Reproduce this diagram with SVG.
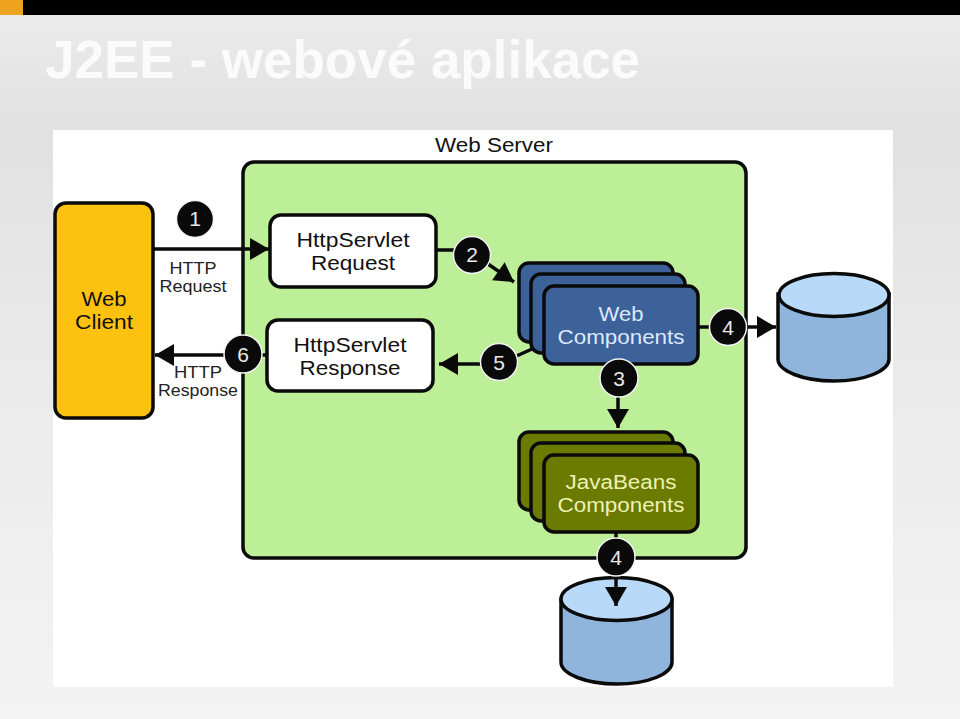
<svg xmlns="http://www.w3.org/2000/svg" width="960" height="719" viewBox="0 0 960 719">
  <style>
    text { font-family: "Liberation Sans", Arial, sans-serif; text-anchor: middle; fill: #111; }
    .title { font-size: 53px; font-weight: 700; fill: #fbfbfb; text-anchor: start; }
    .lbl { font-size: 20px; }
    .small { font-size: 15.800px; fill: #222; }
    .num { font-size: 21px; fill: #e8e8e8; }
    .box { stroke: #0a0a0a; stroke-width: 3.500; }
    .web { fill: #3d6299; }
    .bean { fill: #6b7b00; }
    .cyl { fill: #8fb5dc; stroke: #0a0a0a; stroke-width: 3.500; }
    .top { fill: #b9d9f8; stroke: #0a0a0a; stroke-width: 3.500; }
    .badge { fill: #0a0a0a; stroke: #f4f4f4; stroke-width: 1.500; }
    .line { stroke: #0a0a0a; stroke-width: 3.500; fill: none; }
    .arrow { marker-end: url(#head); }
  </style>
  <defs>
    <linearGradient id="bg" x1="0" y1="0" x2="0" y2="1">
      <stop offset="0" stop-color="#ececec"/>
      <stop offset="0.18" stop-color="#e1e1e1"/>
      <stop offset="0.6" stop-color="#ececec"/>
      <stop offset="1" stop-color="#f3f3f3"/>
    </linearGradient>
    <marker id="head" markerUnits="userSpaceOnUse" markerWidth="20" markerHeight="24" refX="19" refY="12" orient="auto" overflow="visible">
      <path d="M0 1 L19 12 L0 23 Z" fill="#0a0a0a"/>
    </marker>
  </defs>

  <rect width="960" height="719" fill="url(#bg)"/>
  <rect width="960" height="15" fill="#000"/>
  <rect width="23" height="15" fill="#eda320"/>
  <text class="title" x="45" y="78">J2EE - webové aplikace</text>
  <rect x="53" y="130" width="840" height="557" fill="#fff"/>

  <g id="web-server">
    <rect class="box" x="243" y="162" width="503" height="396" rx="11" fill="#bdee98"/>
    <text class="lbl" x="494" y="152" textLength="118" lengthAdjust="spacingAndGlyphs">Web Server</text>
  </g>

  <g id="connectors">
    <path class="line arrow" d="M153 249 H269"/>
    <path class="line" d="M436 250 H456"/>
    <path class="line arrow" d="M488 264 L514 282"/>
    <path class="line" d="M532 349 L512 358"/>
    <path class="line arrow" d="M481 364 H439"/>
    <path class="line arrow" d="M226 355 H155"/>
    <path class="line" d="M262 355 H267"/>
    <path class="line" d="M698 327 H712"/>
    <path class="line arrow" d="M746 327 H776"/>
    <path class="line arrow" d="M618 396 V428"/>
    <path class="line" d="M616 533 V540"/>
  </g>

  <g id="web-client">
    <rect class="box" x="55" y="203" width="98" height="215" rx="11" fill="#fdc210"/>
    <text class="lbl" x="104" y="306" textLength="45" lengthAdjust="spacingAndGlyphs">Web</text>
    <text class="lbl" x="104" y="329" textLength="58" lengthAdjust="spacingAndGlyphs">Client</text>
  </g>
  <g id="http-request-label">
    <text class="small" x="193" y="273.500" textLength="47" lengthAdjust="spacingAndGlyphs">HTTP</text>
    <text class="small" x="193" y="292" textLength="67" lengthAdjust="spacingAndGlyphs">Request</text>
  </g>
  <g id="http-response-label">
    <text class="small" x="198" y="377.500" textLength="48" lengthAdjust="spacingAndGlyphs">HTTP</text>
    <text class="small" x="198" y="396" textLength="80" lengthAdjust="spacingAndGlyphs">Response</text>
  </g>
  <g id="servlet-request">
    <rect class="box" x="270" y="215" width="166" height="72" rx="11" fill="#fff"/>
    <text class="lbl" x="353" y="247" textLength="113" lengthAdjust="spacingAndGlyphs">HttpServlet</text>
    <text class="lbl" x="353" y="270" textLength="84" lengthAdjust="spacingAndGlyphs">Request</text>
  </g>
  <g id="servlet-response">
    <rect class="box" x="267" y="320" width="166" height="71" rx="11" fill="#fff"/>
    <text class="lbl" x="350" y="352" textLength="113" lengthAdjust="spacingAndGlyphs">HttpServlet</text>
    <text class="lbl" x="350" y="375" textLength="101" lengthAdjust="spacingAndGlyphs">Response</text>
  </g>
  <g id="web-components">
    <rect class="box web" x="519" y="263" width="154" height="79" rx="10"/>
    <rect class="box web" x="531" y="274" width="154" height="79" rx="10"/>
    <rect class="box web" x="544" y="286" width="154" height="78" rx="10"/>
    <text class="lbl" x="621" y="321" textLength="45" lengthAdjust="spacingAndGlyphs" style="fill:#dbe9ff">Web</text>
    <text class="lbl" x="621" y="344" textLength="127" lengthAdjust="spacingAndGlyphs" style="fill:#dbe9ff">Components</text>
  </g>
  <g id="javabeans-components">
    <rect class="box bean" x="519" y="432" width="154" height="78" rx="10"/>
    <rect class="box bean" x="531" y="443" width="154" height="78" rx="10"/>
    <rect class="box bean" x="544" y="455" width="154" height="77" rx="10"/>
    <text class="lbl" x="621" y="489" textLength="111" lengthAdjust="spacingAndGlyphs" style="fill:#eef2b4">JavaBeans</text>
    <text class="lbl" x="621" y="512" textLength="127" lengthAdjust="spacingAndGlyphs" style="fill:#eef2b4">Components</text>
  </g>
  <g id="database-right">
    <path class="cyl" d="M778 294 V359 C778 371 803 381 834 381 C865 381 889 371 889 359 V294 Z"/>
    <ellipse class="top" cx="834" cy="295" rx="55" ry="21.500"/>
  </g>
  <g id="database-bottom">
    <path class="cyl" d="M561 600 V662 C561 674 586 684 617 684 C648 684 672 674 672 662 V600 Z"/>
    <ellipse class="top" cx="616.500" cy="599" rx="55.500" ry="21.500"/>
  </g>
  <g id="connector-bottom">
    <path class="line arrow" d="M616 570 V606"/>
  </g>

  <g id="badge-1"><circle class="badge" cx="195" cy="219" r="18.500"/><text class="num" x="195" y="226">1</text></g>
  <g id="badge-2"><circle class="badge" cx="472" cy="255" r="18.500"/><text class="num" x="472" y="262">2</text></g>
  <g id="badge-3"><circle class="badge" cx="619" cy="378" r="19"/><text class="num" x="619" y="386">3</text></g>
  <g id="badge-4a"><circle class="badge" cx="728" cy="327" r="18.500"/><text class="num" x="728" y="335">4</text></g>
  <g id="badge-4b"><circle class="badge" cx="616" cy="557" r="19"/><text class="num" x="616" y="565">4</text></g>
  <g id="badge-5"><circle class="badge" cx="499" cy="362" r="18.500"/><text class="num" x="499" y="370">5</text></g>
  <g id="badge-6"><circle class="badge" cx="243" cy="354" r="19"/><text class="num" x="243" y="362">6</text></g>
</svg>
